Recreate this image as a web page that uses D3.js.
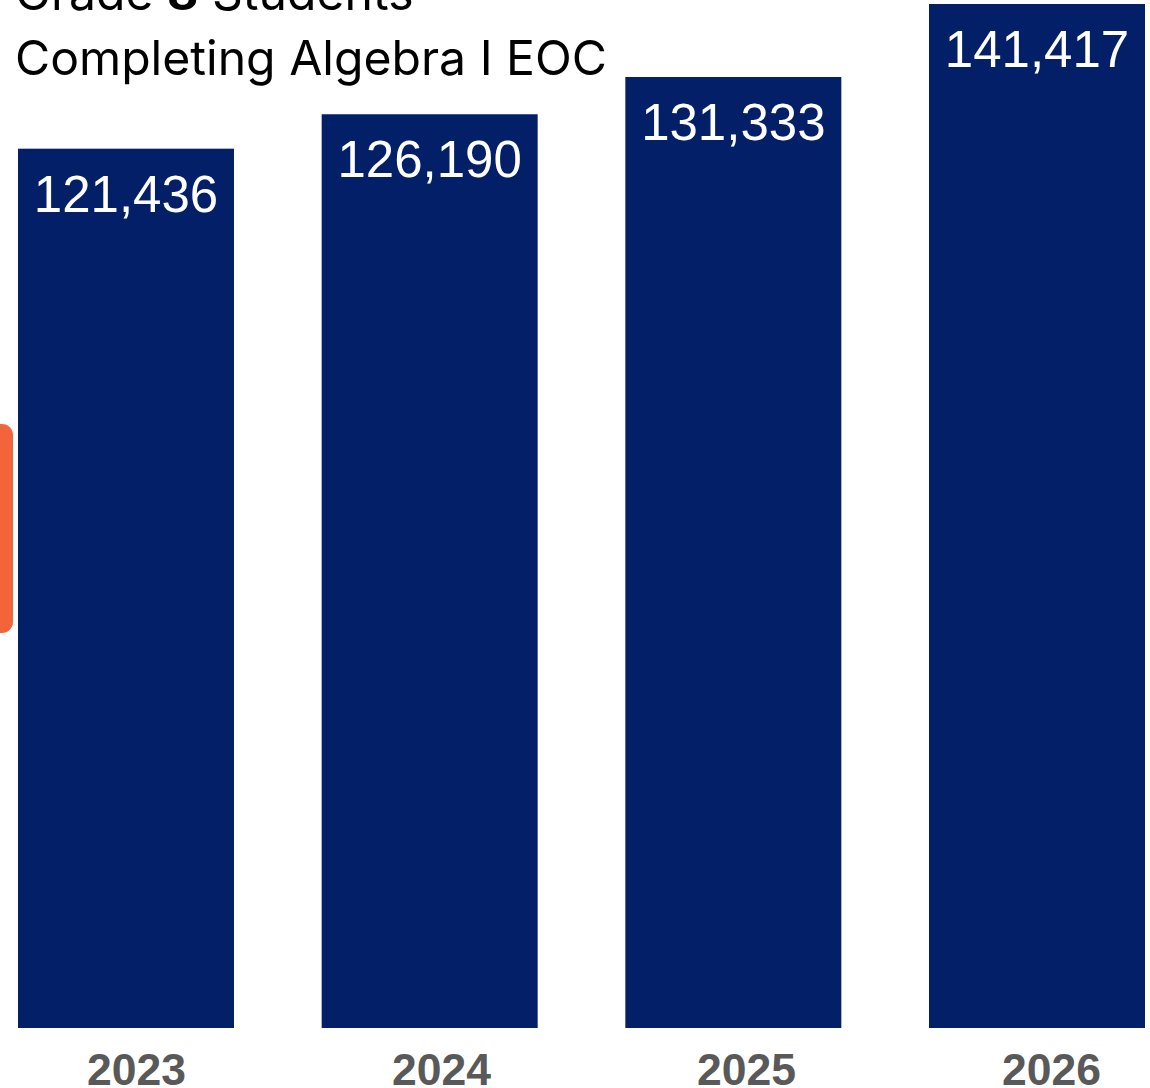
<!DOCTYPE html>
<html>
<head>
<meta charset="utf-8">
<script src="https://cdn.jsdelivr.net/npm/d3@7/dist/d3.min.js"></script>
<style>
  html, body { margin: 0; padding: 0; background: #ffffff; overflow: hidden; }
  svg { display: block; }
</style>
</head>
<body>
<svg id="chart" width="1150" height="1088"></svg>
<script>
// ---- data ----
const years = ["2023", "2024", "2025", "2026"];
const students = [121436, 126190, 131333, 141417];
const titleLine1 = [["Grade ", false], ["8", true], [" Students", false]];
const titleLine2 = "Completing Algebra I EOC";

// ---- layout ----
const W = 1150, H = 1088;
const svg = d3.select("#chart");
const navy = "#031F68";
const orange = "#F4643A";

const x = d3.scaleBand().domain(years).range([18, 1145]).paddingInner(0.2887).paddingOuter(0);
const y = d3.scaleLinear().domain([0, 141969]).range([1028, 0]);
const xLabel = d3.scalePoint().domain(years).range([136, 1051]);

const data = years.map((yr, i) => ({ year: yr, value: students[i] }));

// orange side tab
svg.append("rect")
  .attr("x", -12).attr("y", 424).attr("width", 25).attr("height", 209)
  .attr("rx", 11).attr("fill", orange);

// bars
svg.append("g").selectAll("rect").data(data).join("rect")
  .attr("x", d => x(d.year))
  .attr("y", d => y(d.value))
  .attr("width", x.bandwidth())
  .attr("height", d => y(0) - y(d.value))
  .attr("fill", navy);

// value labels
const fmt = d3.format(",");
svg.append("g").selectAll("text").data(data).join("text")
  .attr("x", d => x(d.year) + x.bandwidth() / 2)
  .attr("y", d => y(d.value) + 63)
  .attr("text-anchor", "middle")
  .attr("font-family", "'Liberation Sans', Arial, sans-serif")
  .attr("font-size", 51)
  .attr("fill", "#ffffff")
  .text(d => fmt(d.value));

// x axis labels
const xAxis = d3.axisBottom(xLabel).tickSize(0).tickPadding(0);
const gx = svg.append("g").attr("transform", "translate(0,1085)").call(xAxis);
gx.select(".domain").remove();
gx.selectAll("text")
  .attr("y", 0).attr("dy", 0)
  .attr("font-family", "'Liberation Sans', Arial, sans-serif")
  .attr("font-size", 44.5)
  .attr("font-weight", "bold")
  .attr("fill", "#595959");

// title
const tfont = "Inter, 'Open Sans', sans-serif";
const t1 = svg.append("text").attr("x", 15).attr("y", 10)
  .attr("font-family", tfont).attr("font-size", 44).attr("fill", "#000");
titleLine1.forEach(([s, b]) => t1.append("tspan").attr("font-weight", b ? "bold" : "normal").text(s));
const t2 = svg.append("text").attr("x", 15).attr("y", 75)
  .attr("font-family", tfont).attr("font-size", 44).attr("fill", "#000")
  .text(titleLine2);
// fit title width to reference (~592px)
const w2 = t2.node().getComputedTextLength();
const fs = 44 * 592 / w2;
t2.attr("font-size", fs);
t1.attr("font-size", fs);
</script>
</body>
</html>
